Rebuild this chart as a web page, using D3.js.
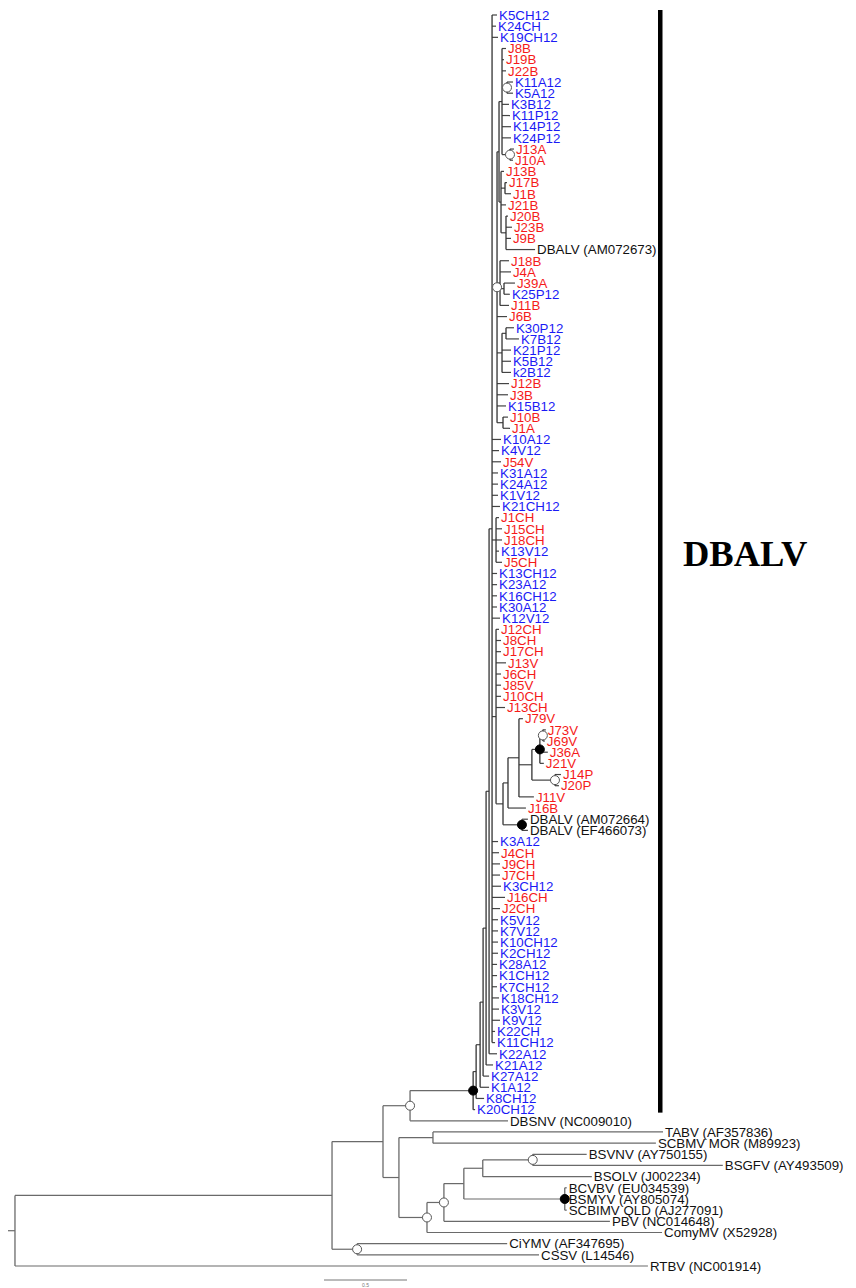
<!DOCTYPE html>
<html><head><meta charset="utf-8">
<script src="https://cdn.jsdelivr.net/npm/d3@7"></script>
<style>
html,body{margin:0;padding:0;background:#fff;}
svg{display:block;}
</style></head>
<body>
<svg id="chart" width="856" height="1288"></svg>
<script>
// ---------- DATA (Newick pieces, branch lengths in substitutions/site) ----------
// internal node labels: o = open bootstrap circle, f = filled circle
const cladeG2 = "((J8B:0.024,J19B:0.012,J22B:0.024,(K11A12:0.036,K5A12:0.036)o:0.030,K3B12:0.042,K11P12:0.048,K14P12:0.054,K24P12:0.054,(J13A:0.024,J10A:0.018)o:0.048):0.018,(J13B:0.018,(J17B:0.012,J1B:0.036):0.024,J21B:0.030,(J20B:0.012,J23B:0.036,J9B:0.030,'DBALV (AM072673)':0.175):0.030):0.012)";
const cladeG3 = "(J18B:0.054,J4A:0.066,(J39A:0.066,K25P12:0.036):0.024,J11B:0.054)";
const cladeG4 = "((K30P12:0.048,K7B12:0.078):0.024,K21P12:0.054,K5B12:0.054,k2B12:0.054)";
const cladeG1 = "(" + cladeG2 + ":0.012," + cladeG3 + ":0.018,J6B:0.060," + cladeG4 + ":0.030,J12B:0.072,J3B:0.066,K15B12:0.054,(J10B:0.030,J1A:0.042):0.036)o";
const cladeG6 = "(J1CH:0.018,J15CH:0.036,J18CH:0.036,K13V12:0.018,J5CH:0.036)";
const cladeNJ = "(((J79V:0.024,(((J73V:0.018,J69V:0.012)o:0.018,J36A:0.048,J21V:0.024)f:0.048,(J14P:0.036,J20P:0.024)o:0.139):0.078,J11V:0.090):0.066,J16B:0.108):0.030,('DBALV (AM072664)':0.036,'DBALV (EF466073)':0.036)f:0.114)";
const cladeG7 = "(J12CH:0.018,J8CH:0.030,J17CH:0.030,J13V:0.060,J6CH:0.030,J85V:0.030,J10CH:0.030,J13CH:0.054," + cladeNJ + ":0.042)";
const cladeB = "(K5CH12:0.030,K24CH:0.024,K19CH12:0.036," + cladeG1 + ":0.030,K10A12:0.054,K4V12:0.042,J54V:0.054,K31A12:0.036,K24A12:0.036,K1V12:0.036,K21CH12:0.048,"
  + cladeG6 + ":0.024,K13CH12:0.030,K23A12:0.030,K16CH12:0.030,K30A12:0.030,K12V12:0.048,"
  + cladeG7 + ":0.024,K3A12:0.036,J4CH:0.042,J9CH:0.048,J7CH:0.048,K3CH12:0.054,J16CH:0.078,J2CH:0.048,K5V12:0.036,K7V12:0.036,K10CH12:0.036,K2CH12:0.036,K28A12:0.030,K1CH12:0.030,K7CH12:0.030,K18CH12:0.042,K3V12:0.042,K9V12:0.048,K22CH:0.018,K11CH12:0.018)";
const cladeDBALV = "((((((" + cladeB + ":0.018,K22A12:0.048):0.018,K21A12:0.042):0.018,K27A12:0.036):0.018,K1A12:0.054):0.024,K8CH12:0.048):0.018,K20CH12:0.012)f";
const newick = "((((" + cladeDBALV + ":0.380,'DBSNV (NC009010)':0.590)o:0.163,(('TABV (AF357836)':1.386,'SCBMV MOR (M89923)':1.343):0.205,((((('BSVNV (AY750155)':0.325,'BSGFV (AY493509)':1.145)o:0.301,'BSOLV (J002234)':0.657):0.114,('BCVBV (EU034539)':0.012,'BSMYV (AY805074)':0.012,'SCBIMV QLD (AJ277091)':0.012)f:0.608):0.120,'PBV (NC014648)':1.000)o:0.102,'ComyMV (X52928)':1.416)o:0.169):0.096):0.307,('CiYMV (AF347695)':0.904,'CSSV (L14546)':1.096)o:0.151):1.910,'RTBV (NC001914)':3.813):0.042;";

const groupPrefixes = ["J", "K", "k"];
const groupColors = ["#f51a1a", "#1a1af5", "#1a1af5"];
const cladeLabel = ["DBALV"];
const scaleBarValue = [0.5];
const scaleBarLabel = ["0.5"];

// ---------- Newick parser ----------
function parseNewick(s) {
  let i = 0;
  function node() {
    const n = {};
    if (s[i] === "(") {
      i++; n.children = [];
      while (true) {
        n.children.push(node());
        if (s[i] === ",") { i++; } else { i++; break; }
      }
    }
    let label = "";
    if (s[i] === "'") { i++; while (s[i] !== "'") label += s[i++]; i++; }
    else { while (i < s.length && !",():;".includes(s[i])) label += s[i++]; }
    n.name = label;
    if (s[i] === ":") {
      i++; let num = "";
      while (i < s.length && !",();".includes(s[i])) num += s[i++];
      n.length = +num;
    }
    return n;
  }
  return node();
}

const root = d3.hierarchy(parseNewick(newick));
root.eachBefore(n => { n.dist = (n.parent ? n.parent.dist : 0) + (n.data.length || 0); });
const leaves = root.leaves();
leaves.forEach((l, i) => l.row = i);
root.eachAfter(n => { if (n.children) n.row = (n.children[0].row + n.children[n.children.length - 1].row) / 2; });
// mark nodes belonging to the DBALV clade (ingroup drawn darker)
const ingroupRoot = root.descendants().find(d => d.children && d.leaves().length === 99);
const ingroup = new Set(ingroupRoot.descendants());

const x = d3.scaleLinear().domain([0, 0.5]).range([8, 91]);
const y = d3.scaleLinear().domain([0, leaves.length - 1]).range([15, 1266]);

const svg = d3.select("#chart");
const g = svg.append("g");
const lineColor = d => ingroup.has(d) && d !== ingroupRoot ? "#444" : "#6a6a6a";

// horizontal branches
g.selectAll("path.h").data(root.descendants()).join("path")
  .attr("class", "h")
  .attr("d", d => `M${x(d.parent ? d.parent.dist : 0)},${y(d.row)}H${x(d.dist)}`)
  .attr("stroke", lineColor).attr("stroke-width", 1.2).attr("fill", "none");
// vertical connectors
g.selectAll("path.v").data(root.descendants().filter(d => d.children)).join("path")
  .attr("class", "v")
  .attr("d", d => `M${x(d.dist)},${y(d.children[0].row)}V${y(d.children[d.children.length - 1].row)}`)
  .attr("stroke", d => ingroup.has(d) ? "#333" : "#6a6a6a").attr("stroke-width", 1.3).attr("fill", "none");

// node markers
const marked = root.descendants().filter(d => d.children && (d.data.name === "o" || d.data.name === "f"));
g.selectAll("circle").data(marked).join("circle")
  .attr("cx", d => x(d.dist)).attr("cy", d => y(d.row)).attr("r", 4.5)
  .attr("fill", d => d.data.name === "f" ? "#000" : "#fff")
  .attr("stroke", d => d.data.name === "f" ? "#000" : "#555").attr("stroke-width", 1);

// tip labels
function colorOf(name) {
  const k = groupPrefixes.indexOf(name[0]);
  return (k >= 0 && /\d/.test(name[1])) ? groupColors[k] : "#111";
}
g.selectAll("text.tip").data(leaves).join("text")
  .attr("class", "tip")
  .attr("x", d => x(d.dist) + 2).attr("y", d => y(d.row)).attr("dy", "0.36em")
  .attr("font-family", "'Liberation Sans', Arial, sans-serif").attr("font-size", 13.3)
  .attr("fill", d => colorOf(d.data.name))
  .text(d => d.data.name);

// clade bar + label
svg.append("rect").attr("x", 658).attr("y", y(0) - 5).attr("width", 4.5)
  .attr("height", y(98) + 3 - (y(0) - 5)).attr("fill", "#000");
svg.append("text").attr("x", 683).attr("y", 566)
  .attr("font-family", "'Liberation Serif', 'Times New Roman', serif").attr("font-weight", "bold")
  .attr("font-size", 36.5).attr("fill", "#000").text(cladeLabel[0]);

// scale bar
const sbLen = x(scaleBarValue[0]) - x(0);
svg.append("line").attr("x1", 324).attr("x2", 324 + sbLen).attr("y1", 1280).attr("y2", 1280)
  .attr("stroke", "#777").attr("stroke-width", 1);
svg.append("text").attr("x", 324 + sbLen / 2).attr("y", 1287).attr("text-anchor", "middle")
  .attr("font-family", "'Liberation Sans', Arial, sans-serif").attr("font-size", 5).attr("fill", "#777")
  .text(scaleBarLabel[0]);
</script>
</body></html>
